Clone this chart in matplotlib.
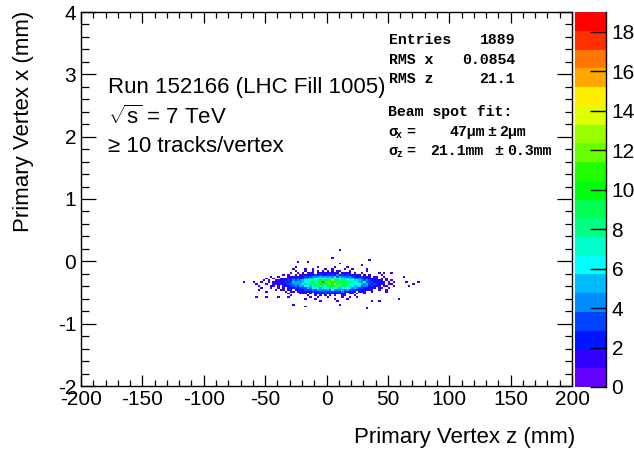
import numpy as np
import matplotlib
matplotlib.use('Agg')
import matplotlib.pyplot as plt
from matplotlib.colors import ListedColormap, BoundaryNorm
from matplotlib.ticker import MultipleLocator
from matplotlib.lines import Line2D
import colorsys

# ---------------- data ----------------
z_range = (-200.0, 200.0)     # mm, 200 bins
x_range = (-2.0, 4.0)         # mm, 200 bins
n_bins_z = 200
n_bins_x = 200

# core of the histogram: bin contents (base-36 digits), rows from top (x bin 63) down to x bin 45,
# columns start at z bin 70
core_top_row = 63
core_first_col = 70
core_rows = [
    "0000000000 0000000100 0000001000 0001000010 0000000000 0000000000 00000000",
    "0000000000 0000001000 0100100001 0010000100 1000000000 0000000000 00000000",
    "0000000000 0000000100 0100101010 1010110001 0000001000 0000000000 00000000",
    "0000000000 0000010010 1011101211 2111201121 0100100000 0000000000 00000000",
    "0000000000 0010100101 1212232322 3232423132 2111010100 0010000000 00000000",
    "0000000100 1000111212 2323444545 4546354434 3222311101 1001000000 00000000",
    "0000010010 0111213232 3445566767 7867768565 5434323121 1010100000 00000000",
    "0000101001 1122324344 5667878a89 a8e9a79887 6575434322 1210101000 00000000",
    "0001001012 1213235454 5768a7b9i9 c9ab8a9978 8675463332 2121010100 00100000",
    "0100010011 2112334545 6579896ab9 bdaf9c8a97 7766545323 1221011000 00000100",
    "0010000110 1021233435 4675799887 9ba8c89a78 7556344232 2101100100 00010000",
    "0001000100 1010221323 3354667586 7a66857667 4543322211 0110010000 00000000",
    "0010000001 0110120122 2333435444 5364445353 3321221110 0100100000 00000000",
    "0000010000 0001011011 2121322333 2332314222 1201110010 0000100000 00000000",
    "0000000000 0000100001 1101011121 1211112101 1010010000 0000000000 00000000",
    "0000000000 0000010000 0010010101 0101001100 0100000000 0000000000 00000000",
    "0000000000 0000100000 0001001000 1000001001 0010000000 0000000000 00000000",
    "0000000000 0000000000 0100010000 0001000010 0000000000 0000000000 00000000",
    "0000000000 0000000000 0000000000 0000100000 0000000000 0000000000 00000000",
]

# isolated single vertices outside the core (z in mm, x in mm)
z_out = [10.2, 4.5, -24.0, -15.9, 11.0, 35.4, 29.7, 33.8, -66.4, -58.2, 74.5, 62.3,
         -28.0, -17.5, 32.2, 11.0, 59.9, 37.9, 42.0, -7.7, 53.4, 43.6, 47.7, -56.6,
         -50.0, -40.0, -5.0]
x_out = [0.166, 0.053, -0.011, -0.011, -0.027, 0.021, -0.075, -0.139, -0.33, -0.348,
         -0.35, -0.25, -0.70, -0.73, -0.76, -0.70, -0.60, -0.637, -0.637, -0.107,
         -0.19, -0.19, -0.19, -0.57, -0.57, -0.59, -0.65]

z_max = 19.0
n_levels = 20
cbar_ticks = [0, 2, 4, 6, 8, 10, 12, 14, 16, 18]

run_lines = ["Run 152166 (LHC Fill 1005)", r"$\sqrt{s}$ = 7 TeV", "\u2265 10 tracks/vertex"]
stat_labels = ["Entries", "RMS x", "RMS z"]
stat_values = ["1889", "0.0854", "21.1"]

# ---------------- build histogram ----------------
z_edges = np.linspace(z_range[0], z_range[1], n_bins_z + 1)
x_edges = np.linspace(x_range[0], x_range[1], n_bins_x + 1)
counts = np.zeros((n_bins_x, n_bins_z))
for r, s in enumerate(core_rows):
    s = s.replace(" ", "")
    j = core_top_row - r
    for c, ch in enumerate(s):
        counts[j, core_first_col + c] += int(ch, 36)
h_out, _, _ = np.histogram2d(x_out, z_out, bins=[x_edges, z_edges])
counts += h_out
masked = np.ma.masked_equal(counts, 0)

# ROOT palette 1 (rainbow), 20 contour levels
cols = []
for k in range(n_levels):
    idx = int((k + 0.99999) * 50 / n_levels)
    hue = 280 - (idx + 1) * 5.6
    cols.append(colorsys.hsv_to_rgb(max(hue, 0) / 360.0, 1, 1))
cmap = ListedColormap(cols)
levels = np.linspace(0, z_max, n_levels + 1)
norm = BoundaryNorm(levels, cmap.N)

# ---------------- figure ----------------
plt.rcParams['font.family'] = ['Liberation Sans', 'DejaVu Sans']
plt.rcParams['mathtext.fontset'] = 'custom'
plt.rcParams['mathtext.rm'] = 'Liberation Sans'
plt.rcParams['mathtext.it'] = 'Liberation Sans'
plt.rcParams['mathtext.sf'] = 'Liberation Sans'
plt.rcParams['axes.unicode_minus'] = False

W, H = 634, 454
fig = plt.figure(figsize=(W / 100, H / 100), dpi=100)
fig.patch.set_facecolor('white')


def fx(x):
    return x / W


def fy(y):
    return 1 - y / H


ax = fig.add_axes([fx(81), fy(386), fx(572) - fx(81), fy(12) - fy(386)])
mesh = ax.pcolormesh(z_edges, x_edges, masked, cmap=cmap, norm=norm,
                     edgecolors='none', antialiased=False)
ax.set_xlim(*z_range)
ax.set_ylim(*x_range)
ax.xaxis.set_major_locator(MultipleLocator(50))
ax.xaxis.set_minor_locator(MultipleLocator(10))
ax.yaxis.set_major_locator(MultipleLocator(1))
ax.yaxis.set_minor_locator(MultipleLocator(0.2))
ax.tick_params(which='both', direction='in', top=True, right=True, width=0.9, colors='black')
ax.tick_params(axis='x', which='major', length=8, labelsize=15, pad=3)
ax.tick_params(axis='x', which='minor', length=4)
ax.tick_params(axis='y', which='major', length=10.8, labelsize=15, pad=3.5)
ax.tick_params(axis='y', which='minor', length=5.4)
for sp in ax.spines.values():
    sp.set_linewidth(1.0)

# colorbar
cax = fig.add_axes([fx(575), fy(387), fx(606) - fx(575), fy(12) - fy(387)])
cb = fig.colorbar(mesh, cax=cax, boundaries=levels, ticks=cbar_ticks)
cb.outline.set_visible(False)
cb.minorticks_off()
cax.tick_params(direction='in', length=11.5, width=1.0, labelsize=15, pad=4, right=True, left=False)
cax.set_yticklabels([str(t) for t in cbar_ticks])
cax.add_line(Line2D([1, 1], [0, 1], transform=cax.transAxes, color='black', lw=1.0, clip_on=False))

# axis titles
fig.text(fx(575), fy(437), "Primary Vertex z (mm)", ha='right', va='center', fontsize=16)
fig.text(fx(23), fy(11), "Primary Vertex x (mm)", ha='center', va='top', rotation=90, fontsize=16)

# run info
for i, line in enumerate(run_lines):
    fig.text(fx(108), fy(88 + 29 * i), line, ha='left', va='center', fontsize=16)

# stats box
mono = ['Liberation Mono', 'DejaVu Sans Mono']
fs = 10.7
stat_y = [40, 60, 79]
for lab, val, yy in zip(stat_labels, stat_values, stat_y):
    fig.text(fx(389), fy(yy), lab, ha='left', va='center', family=mono, weight='bold', fontsize=fs)
    fig.text(fx(515), fy(yy), val, ha='right', va='center', family=mono, weight='bold', fontsize=fs)
fig.text(fx(388), fy(112), "Beam spot fit:", ha='left', va='center', family=mono, weight='bold', fontsize=fs)

for yy, sub, pieces in [(132, "x", [(406, "="), (450, "47\u03bcm"), (487, "\u00b1"), (499, "2\u03bcm")]),
                        (151, "z", [(406, "="), (430, "21.1mm"), (494, "\u00b1"), (507, "0.3mm")])]:
    fig.text(fx(388), fy(yy), "\u03c3", ha='left', va='center', family=mono, weight='bold', fontsize=fs)
    fig.text(fx(396), fy(yy + 3), sub, ha='left', va='center', family=mono, weight='bold', fontsize=7)
    for px, t in pieces:
        fig.text(fx(px), fy(yy), t, ha='left', va='center', family=mono, weight='bold', fontsize=fs)

fig.savefig("out.png", dpi=100, facecolor='white')
